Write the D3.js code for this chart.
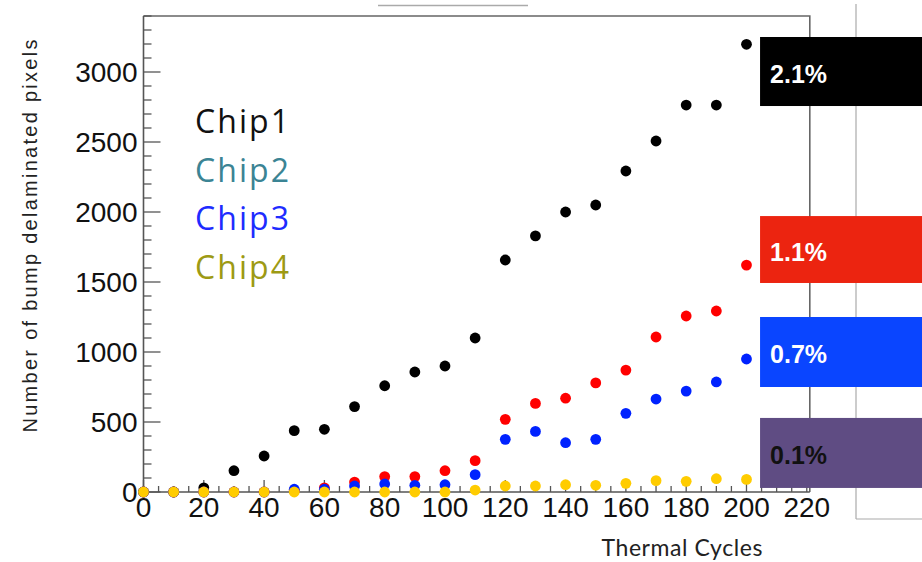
<!DOCTYPE html>
<html>
<head>
<meta charset="utf-8">
<script src="https://cdn.jsdelivr.net/npm/d3@7"></script>
<style>
  body { margin: 0; background: #fff; }
  svg { display: block; }
</style>
</head>
<body>
<div id="chart"></div>
<script>
// thermal cycle steps
const cycles = [0, 10, 20, 30, 40, 50, 60, 70, 80, 90, 100, 110, 120, 130, 140, 150, 160, 170, 180, 190, 200];

// delaminated pixel counts per chip
const blackSeries  = [0, 0, 30, 152, 257, 438, 448, 610, 759, 857, 900, 1100, 1657, 1829, 2000, 2050, 2293, 2507, 2764, 2764, 3198];
const redSeries    = [0, 0, 0, 0, 0, 10, 30, 71, 110, 110, 152, 224, 519, 633, 670, 779, 871, 1107, 1257, 1293, 1621];
const blueSeries   = [0, 0, 0, 0, 0, 20, 20, 43, 57, 48, 52, 124, 376, 433, 352, 376, 562, 664, 721, 786, 950];
const yellowSeries = [0, 0, 0, 0, 0, 0, 0, 0, 0, 0, 0, 14, 43, 43, 52, 48, 62, 81, 76, 95, 90];

const legendLabels = ["Chip1", "Chip2", "Chip3", "Chip4"];
const legendColors = ["#111111", "#3b8494", "#1e2cff", "#9d9a14"];

// percentage boxes at the right (y range in data units)
const boxLabels = ["2.1%", "1.1%", "0.7%", "0.1%"];
const boxRanges = [[2757, 3250], [1493, 1971], [750, 1250], [29, 529]];
const boxFill   = ["#000000", "#ec2410", "#0a45ff", "#5f4c83"];
const boxText   = ["#ffffff", "#ffffff", "#ffffff", "#111111"];

const xTicks = d3.range(0, 221, 20);
const yTicks = d3.range(0, 3001, 500);

const width = 922, height = 562;
const svg = d3.select("#chart").append("svg")
  .attr("width", width)
  .attr("height", height);

const x = d3.scaleLinear().domain([0, 221]).range([143.5, 809.8]);
const y = d3.scaleLinear().domain([0, 3400]).range([492, 16]);

// stray panel lines from the original figure
svg.append("line").attr("x1", 378).attr("x2", 528).attr("y1", 5.5).attr("y2", 5.5)
  .attr("stroke", "#aaa").attr("stroke-width", 1.5);
svg.append("line").attr("x1", 856).attr("x2", 856).attr("y1", 4).attr("y2", 519)
  .attr("stroke", "#aaa").attr("stroke-width", 1.2);
svg.append("line").attr("x1", 856).attr("x2", 922).attr("y1", 519).attr("y2", 519)
  .attr("stroke", "#aaa").attr("stroke-width", 1.2);

// frame (top + right)
svg.append("path")
  .attr("d", `M${x(0)},${y(3400)}H${x(221)}V${y(0)}`)
  .attr("fill", "none").attr("stroke", "#666").attr("stroke-width", 1.6);

// y axis ticks (inward)
const yAxis = svg.append("g").attr("transform", `translate(${x(0)},0)`);
yAxis.append("line").attr("y1", y(0)).attr("y2", y(3400)).attr("stroke", "#555").attr("stroke-width", 1.6);
yAxis.selectAll(".minor").data(d3.range(0, 3401, 100)).enter().append("line")
  .attr("x1", 0).attr("x2", d => d % 500 === 0 ? 17 : 8)
  .attr("y1", d => y(d)).attr("y2", d => y(d))
  .attr("stroke", "#555").attr("stroke-width", 1.3);
yAxis.selectAll("text").data(yTicks).enter().append("text")
  .attr("x", -6).attr("y", d => y(d)).attr("dy", "0.36em")
  .attr("text-anchor", "end")
  .style("font-family", "'Liberation Sans', Arial, sans-serif")
  .style("font-size", "28px").attr("fill", "#111")
  .text(d => d);

// x axis ticks (inward)
const xAxis = svg.append("g").attr("transform", `translate(0,${y(0)})`);
xAxis.append("line").attr("x1", x(0)).attr("x2", x(221)).attr("stroke", "#555").attr("stroke-width", 1.6);
xAxis.selectAll(".minor").data(d3.range(0, 221, 5)).enter().append("line")
  .attr("x1", d => x(d)).attr("x2", d => x(d))
  .attr("y1", 0).attr("y2", d => d % 20 === 0 ? -12 : -6)
  .attr("stroke", "#555").attr("stroke-width", 1.3);
xAxis.selectAll("text").data(xTicks).enter().append("text")
  .attr("x", d => x(d)).attr("y", 25)
  .attr("text-anchor", "middle")
  .style("font-family", "'Liberation Sans', Arial, sans-serif")
  .style("font-size", "28px").attr("fill", "#111")
  .text(d => d);

// axis titles
svg.append("text")
  .attr("transform", "translate(37,236) rotate(-90)")
  .attr("text-anchor", "middle")
  .attr("textLength", 393).attr("lengthAdjust", "spacing")
  .style("font-family", "'Liberation Sans', Arial, sans-serif")
  .style("font-size", "20px").attr("fill", "#222")
  .text("Number of bump delaminated pixels");

svg.append("text")
  .attr("x", 682).attr("y", 556)
  .attr("text-anchor", "middle")
  .attr("textLength", 161).attr("lengthAdjust", "spacing")
  .style("font-family", "Lato, 'Open Sans', sans-serif")
  .style("font-size", "23px").attr("fill", "#222")
  .text("Thermal Cycles");

// legend text
svg.selectAll(".legend").data(legendLabels).enter().append("text")
  .attr("class", "legend")
  .attr("x", 195).attr("y", (d, i) => 133 + i * 48.5)
  .attr("textLength", 94).attr("lengthAdjust", "spacing")
  .style("font-family", "'Open Sans', Lato, sans-serif")
  .style("font-size", "32px")
  .attr("fill", (d, i) => legendColors[i])
  .text(d => d);

// points
const series = [
  { values: blackSeries, color: "#000000" },
  { values: redSeries, color: "#ff0000" },
  { values: blueSeries, color: "#0022ff" },
  { values: yellowSeries, color: "#ffcc00" }
];
series.forEach(s => {
  svg.append("g").selectAll("circle")
    .data(cycles.map((c, i) => [c, s.values[i]]))
    .enter().append("circle")
    .attr("cx", d => x(d[0]))
    .attr("cy", d => y(d[1]))
    .attr("r", 5.4)
    .attr("fill", s.color);
});

// percentage boxes
const boxes = svg.append("g");
boxLabels.forEach((lab, i) => {
  const top = y(boxRanges[i][1]), bot = y(boxRanges[i][0]);
  boxes.append("rect")
    .attr("x", x(204.5)).attr("y", top)
    .attr("width", width - x(204.5)).attr("height", bot - top)
    .attr("fill", boxFill[i]);
  boxes.append("text")
    .attr("x", x(204.5) + 10).attr("y", (top + bot) / 2 + 2).attr("dy", "0.36em")
    .style("font-family", "'Liberation Sans', Arial, sans-serif")
    .style("font-size", "25px").style("font-weight", "bold")
    .attr("fill", boxText[i])
    .text(lab);
});
</script>
</body>
</html>
